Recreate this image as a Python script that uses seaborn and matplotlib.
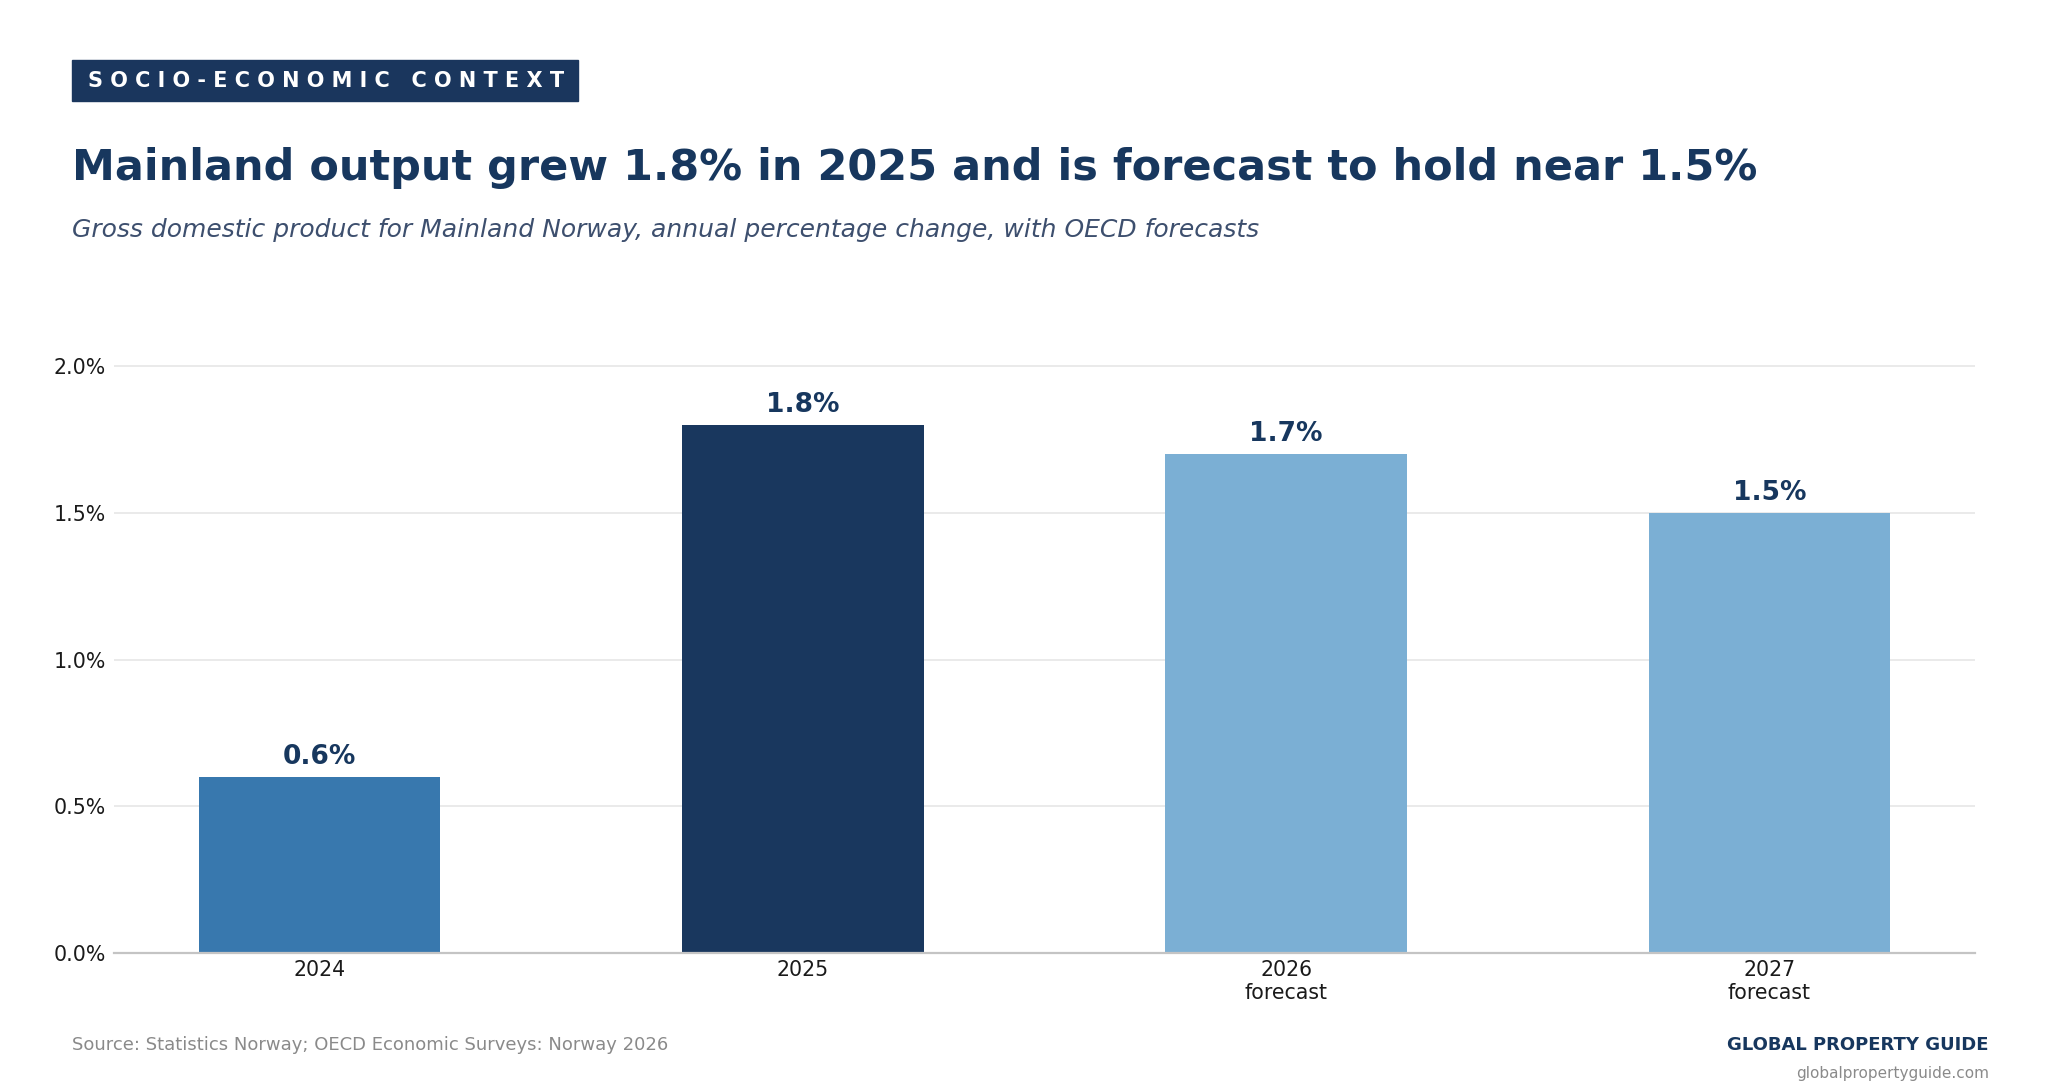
import matplotlib
matplotlib.use('Agg')
import pandas as pd
import seaborn as sns
import matplotlib.pyplot as plt
from matplotlib.patches import Rectangle

# Datos del gráfico
years = ['2024', '2025', '2026\nforecast', '2027\nforecast']
growth = [0.6, 1.8, 1.7, 1.5]
bar_colors = ['#3878ae', '#19375e', '#7bafd4', '#7bafd4']
y_ticks = [0.0, 0.5, 1.0, 1.5, 2.0]

navy = '#17375e'

df = pd.DataFrame({'year': years, 'growth': growth})

sns.set_theme(style='white')
plt.rcParams['font.family'] = ['DejaVu Sans']

fig = plt.figure(figsize=(20.6, 10.9), dpi=100)
ax = fig.add_axes([0.0553, 0.1257, 0.9034, 0.5654])

sns.barplot(data=df, x='year', y='growth', hue='year', palette=bar_colors,
            width=0.5, legend=False, ax=ax, saturation=1, linewidth=0)

ax.set_xlim(-0.425, 3.425)
ax.set_ylim(0, 2.1)
ax.set_yticks(y_ticks)
ax.set_yticklabels([f'{v:.1f}%' for v in y_ticks])
ax.yaxis.grid(True, color='#e6e6e6', linewidth=1.2)
ax.set_axisbelow(True)
ax.tick_params(axis='both', length=0, labelsize=14.8, labelcolor='#1a1a1a')
ax.tick_params(axis='x', pad=5)
ax.tick_params(axis='y', pad=6)
ax.set_xlabel('')
ax.set_ylabel('')
for side in ['top', 'right', 'left']:
    ax.spines[side].set_visible(False)
ax.spines['bottom'].set_color('#c4c4c4')
ax.spines['bottom'].set_linewidth(1.6)

for cont in ax.containers:
    ax.bar_label(cont, labels=[f'{v:.1f}%' for v in cont.datavalues],
                 padding=5, fontsize=19, fontweight='bold', color=navy)

# Etiqueta superior
fig.patches.append(Rectangle((0.035, 0.9073), 0.2456, 0.0376,
                             transform=fig.transFigure, color='#1a365d'))
fig.text(0.0427, 0.9261, 'S O C I O - E C O N O M I C   C O N T E X T',
         color='white', fontsize=15, fontweight='bold', va='center', ha='left')

fig.text(0.035, 0.8349, 'Mainland output grew 1.8% in 2025 and is forecast to hold near 1.5%',
         fontsize=31, fontweight='bold', color=navy, va='baseline', ha='left')
fig.text(0.035, 0.789, 'Gross domestic product for Mainland Norway, annual percentage change, with OECD forecasts',
         fontsize=18, style='italic', color='#3d4f6e', va='center', ha='left')

fig.text(0.035, 0.0413, 'Source: Statistics Norway; OECD Economic Surveys: Norway 2026',
         fontsize=13, color='#8a8a8a', va='center', ha='left')
fig.text(0.9655, 0.0413, 'GLOBAL PROPERTY GUIDE', fontsize=13, fontweight='bold',
         color=navy, va='center', ha='right')
fig.text(0.9655, 0.0147, 'globalpropertyguide.com', fontsize=11,
         color='#8a8a8a', va='center', ha='right')

fig.savefig('out.png', dpi=100, facecolor='white')
